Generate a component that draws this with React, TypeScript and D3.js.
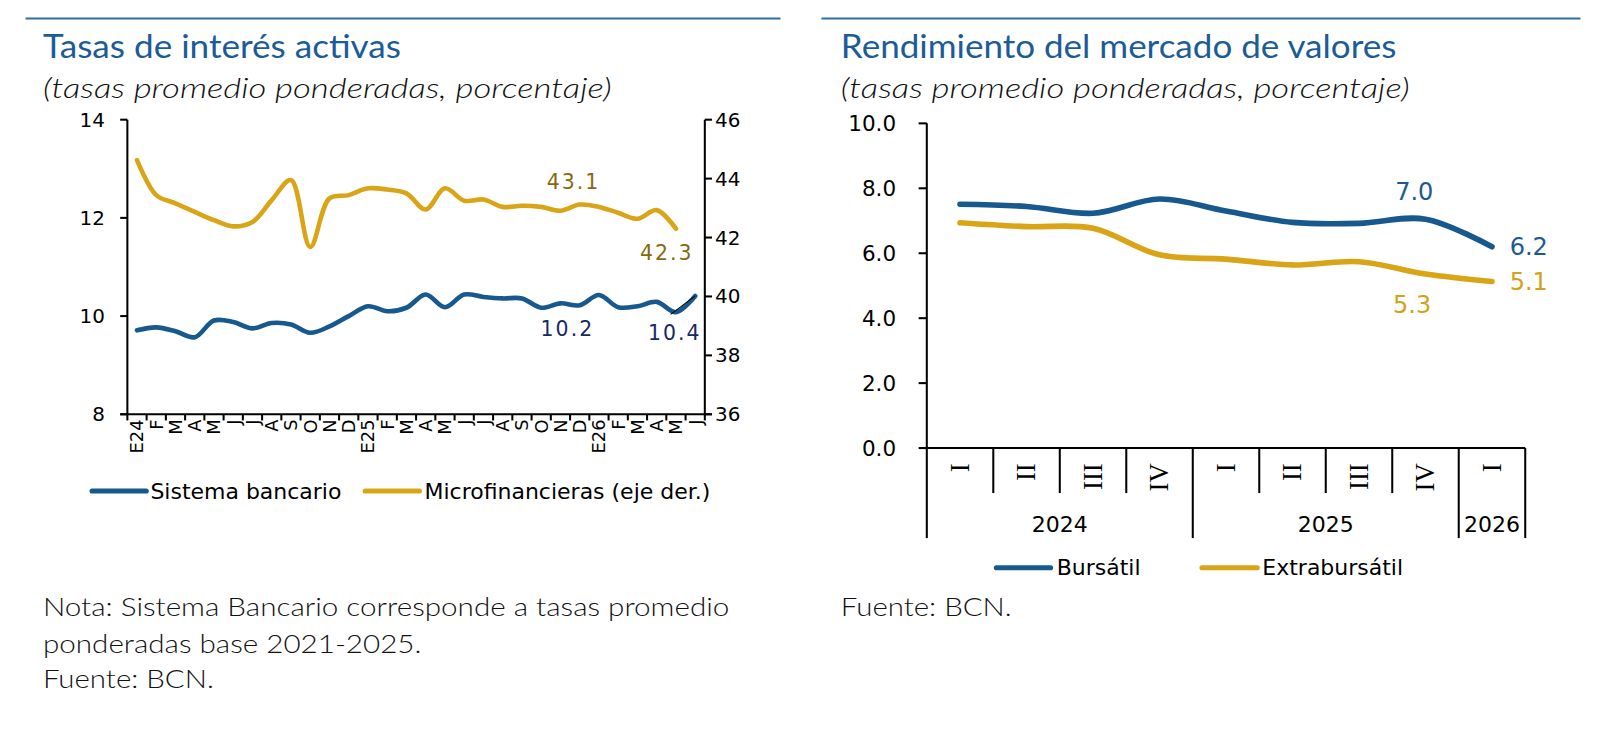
import React from 'react';
import * as d3 from 'd3';

// ---- Left chart data: monthly, Jan 2024 - Jun 2026
const months = ['E24', 'F', 'M', 'A', 'M', 'J', 'J', 'A', 'S', 'O', 'N', 'D',
  'E25', 'F', 'M', 'A', 'M', 'J', 'J', 'A', 'S', 'O', 'N', 'D',
  'E26', 'F', 'M', 'A', 'M', 'J'];
const bancario = [9.71, 9.77, 9.69, 9.57, 9.91, 9.88, 9.75, 9.86, 9.83, 9.66, 9.79, 10.0,
  10.2, 10.1, 10.17, 10.44, 10.18, 10.44, 10.39, 10.36, 10.36, 10.17, 10.26, 10.22,
  10.43, 10.18, 10.2, 10.29, 10.08, 10.41];
const microfin: (number | null)[] = [44.63, 43.44, 43.16, 42.87, 42.59, 42.38, 42.53, 43.27, 43.95, 41.68, 43.33, 43.44,
  43.67, 43.63, 43.5, 42.95, 43.67, 43.25, 43.29, 43.04, 43.08, 43.04, 42.91, 43.12,
  43.04, 42.84, 42.64, 42.93, 42.3, null];
const leftTicks = [8, 10, 12, 14];
const rightTicks = [36, 38, 40, 42, 44, 46];

// ---- Right chart data: quarterly
const quarters = ['I', 'II', 'III', 'IV', 'I', 'II', 'III', 'IV', 'I'];
const years = [
  { label: '2024', from: 0, to: 4 },
  { label: '2025', from: 4, to: 8 },
  { label: '2026', from: 8, to: 9 },
];
const bursatil = [7.51, 7.44, 7.23, 7.67, 7.3, 6.95, 6.92, 7.05, 6.2];
const extrabursatil = [6.94, 6.82, 6.77, 5.95, 5.82, 5.64, 5.74, 5.36, 5.13];
const valTicks = [0, 2, 4, 6, 8, 10];

const BLUE = '#17598f';
const GOLD = '#d9a516';
const RULE = '#2f6ea5';
const TITLE = '#1b5c98';
const NUM = '"DejaVu Sans", Verdana, sans-serif';
const HEAD = 'Lato, "Noto Sans", sans-serif';

const smooth = d3.curveCatmullRom.alpha(0.5);

function LeftChart() {
  const x0 = 124.5, x1 = 689, yTop = 117, yBot = 405;
  const x = d3.scaleBand<number>().domain(d3.range(months.length)).range([x0, x1]).padding(0);
  const yL = d3.scaleLinear().domain([8, 14]).range([yBot, yTop]);
  const yR = d3.scaleLinear().domain([36, 46]).range([yBot, yTop]);
  const cx = (i: number) => (x(i) ?? 0) + x.bandwidth() / 2;

  const lineL = d3.line<number>().x((_, i) => cx(i)).y(d => yL(d)).curve(smooth);
  const lineR = d3.line<number | null>()
    .defined(d => d != null)
    .x((_, i) => cx(i)).y(d => yR(d as number)).curve(smooth);

  const lastB = bancario.length - 1;
  const lastM = microfin.filter(d => d != null).length - 1;

  return (
    <g>
      <line x1={25} x2={763} y1={18} y2={18} stroke={RULE} strokeWidth={2} />
      <text x={42} y={57} fill={TITLE} fontFamily={HEAD} fontSize={33}
        textLength={350} lengthAdjust="spacingAndGlyphs">Tasas de interés activas</text>
      <text x={42} y={96} fill="#111" fontFamily={HEAD} fontSize={27} fontStyle="italic" fontWeight={300}
        textLength={556} lengthAdjust="spacingAndGlyphs">(tasas promedio ponderadas, porcentaje)</text>

      {/* axes */}
      <line x1={x0} x2={x0} y1={yTop} y2={yBot} stroke="#000" strokeWidth={2} />
      <line x1={x1} x2={x1} y1={yTop} y2={yBot} stroke="#000" strokeWidth={2} />
      <line x1={x0 - 7} x2={x1 + 7} y1={yBot} y2={yBot} stroke="#000" strokeWidth={2} />
      {leftTicks.map(t => (
        <g key={'l' + t}>
          <line x1={x0 - 7} x2={x0} y1={yL(t)} y2={yL(t)} stroke="#000" strokeWidth={2} />
          <text x={x0 - 22} y={yL(t)} dy="0.35em" textAnchor="end" fontFamily={NUM} fontSize={19.5}>{t}</text>
        </g>
      ))}
      {rightTicks.map(t => (
        <g key={'r' + t}>
          <line x1={x1} x2={x1 + 7} y1={yR(t)} y2={yR(t)} stroke="#000" strokeWidth={2} />
          <text x={x1 + 10} y={yR(t)} dy="0.35em" textAnchor="start" fontFamily={NUM} fontSize={19.5}>{t}</text>
        </g>
      ))}
      {d3.range(months.length + 1).map(i => {
        const xx = i < months.length ? (x(i) ?? 0) : x1;
        return <line key={'t' + i} x1={xx} x2={xx} y1={yBot} y2={yBot + 6} stroke="#000" strokeWidth={2} />;
      })}
      {months.map((m, i) => (
        <text key={'m' + i} transform={`translate(${cx(i)},${yBot + 5}) rotate(-90)`}
          textAnchor="end" dy="0.36em" fontFamily={NUM} fontSize={17.5}>{m}</text>
      ))}

      {/* series */}
      <path d={lineR(microfin) ?? ''} fill="none" stroke={GOLD} strokeWidth={4.5} strokeLinecap="round" />
      <path d={lineL(bancario) ?? ''} fill="none" stroke={BLUE} strokeWidth={4.5} strokeLinecap="round" />

      {/* data labels */}
      <g fontFamily={NUM} fontSize={20} letterSpacing={2} textAnchor="middle">
        <text x={cx(23) - 6} y={yR(43.12) - 22} dy="0.35em" fill="#86690f">43.1</text>
        <text x={cx(lastM) - 9} y={yR(microfin[lastM] as number) + 24} dy="0.35em" fill="#86690f">42.3</text>
        <text x={cx(23) - 12} y={yL(bancario[23]) + 23} dy="0.35em" fill="#172866">10.2</text>
        <text x={cx(lastB) - 20} y={yL(bancario[lastB]) + 36} dy="0.35em" fill="#172866">10.4</text>
      </g>
      <line x1={cx(lastB) - 24} y1={yL(bancario[lastB]) + 18} x2={cx(lastB)} y2={yL(bancario[lastB])} stroke="#000" strokeWidth={1} />

      {/* legend */}
      <line x1={90} x2={143} y1={480} y2={480} stroke={BLUE} strokeWidth={5} strokeLinecap="round" />
      <text x={147} y={480} dy="0.35em" fontFamily={NUM} fontSize={21.5}>Sistema bancario</text>
      <line x1={357} x2={410} y1={480} y2={480} stroke={GOLD} strokeWidth={5} strokeLinecap="round" />
      <text x={415} y={480} dy="0.35em" fontFamily={NUM} fontSize={21.5}>Microfinancieras (eje der.)</text>

      {/* note */}
      <g fontFamily={HEAD} fontSize={24} fontWeight={300} fill="#111">
        <text x={42} y={602} textLength={671} lengthAdjust="spacingAndGlyphs">Nota: Sistema Bancario corresponde a tasas promedio</text>
        <text x={42} y={638} textLength={370} lengthAdjust="spacingAndGlyphs">ponderadas base 2021-2025.</text>
        <text x={42} y={673} textLength={167} lengthAdjust="spacingAndGlyphs">Fuente: BCN.</text>
      </g>
    </g>
  );
}

function RightChart() {
  const x0 = 906, x1 = 1491, yTop = 120.6, yBot = 438;
  const x = d3.scaleBand<number>().domain(d3.range(quarters.length)).range([x0, x1]).padding(0);
  const y = d3.scaleLinear().domain([0, 10]).range([yBot, yTop]);
  const cx = (i: number) => (x(i) ?? 0) + x.bandwidth() / 2;
  const edge = (i: number) => (i < quarters.length ? (x(i) ?? 0) : x1);
  const line = d3.line<number>().x((_, i) => cx(i)).y(d => y(d)).curve(smooth);
  const last = quarters.length - 1;
  const yearEdges = new Set<number>(years.flatMap(yr => [yr.from, yr.to]));

  return (
    <g>
      <line x1={803} x2={1545} y1={18} y2={18} stroke={RULE} strokeWidth={2} />
      <text x={822} y={57} fill={TITLE} fontFamily={HEAD} fontSize={33}
        textLength={543} lengthAdjust="spacingAndGlyphs">Rendimiento del mercado de valores</text>
      <text x={822} y={96} fill="#111" fontFamily={HEAD} fontSize={27} fontStyle="italic" fontWeight={300}
        textLength={556} lengthAdjust="spacingAndGlyphs">(tasas promedio ponderadas, porcentaje)</text>

      <line x1={x0} x2={x0} y1={yTop} y2={yBot} stroke="#000" strokeWidth={2} />
      {valTicks.map(t => (
        <g key={'v' + t}>
          <line x1={x0 - 8} x2={x0} y1={y(t)} y2={y(t)} stroke="#000" strokeWidth={2} />
          <text x={x0 - 30} y={y(t)} dy="0.35em" textAnchor="end" fontFamily={NUM} fontSize={21}>{d3.format('.1f')(t)}</text>
        </g>
      ))}
      <line x1={x0} x2={x1} y1={yBot} y2={yBot} stroke="#000" strokeWidth={2} />
      {d3.range(quarters.length + 1).map(i => (
        <line key={'q' + i} x1={edge(i)} x2={edge(i)} y1={yBot}
          y2={yearEdges.has(i) ? 526 : 482} stroke="#000" strokeWidth={2} />
      ))}
      {quarters.map((q, i) => (
        <text key={'ql' + i} transform={`translate(${cx(i)},${yBot + 15}) rotate(-90)`}
          textAnchor="end" dy="0.33em" fontFamily='"Liberation Serif", "DejaVu Serif", serif' fontSize={26}>{q}</text>
      ))}
      {years.map(yr => (
        <text key={yr.label} x={(edge(yr.from) + edge(yr.to)) / 2} y={513} dy="0.35em"
          textAnchor="middle" fontFamily={NUM} fontSize={21.5}>{yr.label}</text>
      ))}

      <path d={line(extrabursatil) ?? ''} fill="none" stroke={GOLD} strokeWidth={5.5} strokeLinecap="round" />
      <path d={line(bursatil) ?? ''} fill="none" stroke={BLUE} strokeWidth={5.5} strokeLinecap="round" />

      <g fontFamily={NUM} fontSize={23.5} textAnchor="middle">
        <text x={cx(7) - 11} y={y(bursatil[7]) - 27} dy="0.35em" fill="#1d5a93">7.0</text>
        <text x={cx(last) + 36} y={y(bursatil[last])} dy="0.35em" fill="#1d5a93">6.2</text>
        <text x={cx(7) - 13} y={y(extrabursatil[7]) + 30} dy="0.35em" fill="#d4a216">5.3</text>
        <text x={cx(last) + 36} y={y(extrabursatil[last])} dy="0.35em" fill="#d4a216">5.1</text>
      </g>

      <line x1={974} x2={1027} y1={555} y2={555} stroke={BLUE} strokeWidth={5} strokeLinecap="round" />
      <text x={1033} y={555} dy="0.35em" fontFamily={NUM} fontSize={21.5}>Bursátil</text>
      <line x1={1175} x2={1229} y1={555} y2={555} stroke={GOLD} strokeWidth={5} strokeLinecap="round" />
      <text x={1234} y={555} dy="0.35em" fontFamily={NUM} fontSize={21.5}>Extrabursátil</text>

      <text x={822} y={602} fontFamily={HEAD} fontSize={24} fontWeight={300} fill="#111"
        textLength={167} lengthAdjust="spacingAndGlyphs">Fuente: BCN.</text>
    </g>
  );
}

export default function App() {
  return (
    <svg width={1604} height={736} style={{ position: 'absolute', left: 0, top: 0, background: '#fff' }}>
      <rect width={1604} height={736} fill="#fff" />
      <g transform={`scale(${1604 / 1568})`}>
        <LeftChart />
        <RightChart />
      </g>
    </svg>
  );
}
